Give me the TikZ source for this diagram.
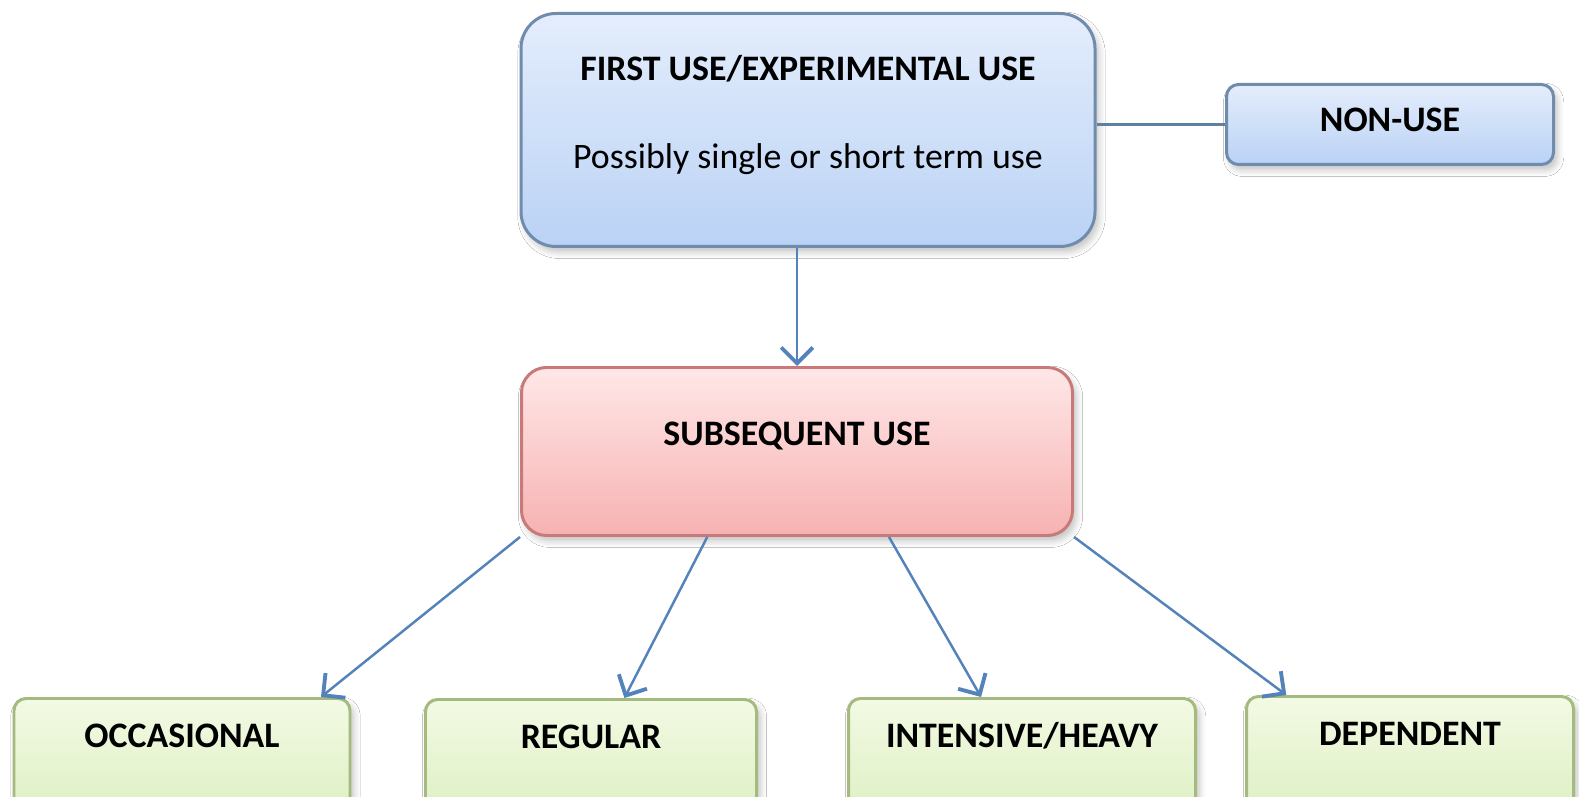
\documentclass[tikz,border=0pt]{standalone}
\usepackage{fontspec}
\setmainfont{Carlito}
\usetikzlibrary{
  arrows.meta,
  calc,
  shadows.blur,
}
\definecolor{cArrow}{RGB}{ 84,130,186}
\definecolor{cLink}{RGB}{ 96,128,160}
\definecolor{cBlueTop}{RGB}{228,237,252}
\definecolor{cBlueBot}{RGB}{186,210,245}
\definecolor{cBlueEdge}{RGB}{112,140,172}
\definecolor{cPinkTop}{RGB}{255,231,231}
\definecolor{cPinkBot}{RGB}{247,178,178}
\definecolor{cPinkEdge}{RGB}{200,122,122}
\definecolor{cGreenTop}{RGB}{243,250,228}
\definecolor{cGreenBot}{RGB}{222,240,196}
\definecolor{cGreenEdge}{RGB}{165,186,126}
\tikzset{
  % Generic stage box (anchored at its top edge)
  stage/.style={
    rectangle, line width=0.85pt,
    anchor=north, inner xsep=0pt, inner ysep=0pt,
    font=\fontsize{10.2}{12.2}\selectfont\bfseries, align=center,
    blur shadow={shadow xshift=1pt, shadow yshift=-1.5pt,
      shadow opacity=25, shadow blur steps=6},
  },
  bluebox/.style={stage, draw=cBlueEdge, top color=cBlueTop, bottom color=cBlueBot},
  pinkbox/.style={stage, draw=cPinkEdge, top color=cPinkTop, bottom color=cPinkBot},
  greenbox/.style={stage, draw=cGreenEdge, top color=cGreenTop, bottom color=cGreenBot,
    rounded corners=0.12cm, text height=0.49cm, text depth=0.64cm},
  % Arrow
  arr/.style={-{Straight Barb[length=4.5pt, width=9pt, line width=1.1pt]},
    draw=cArrow, line width=0.7pt},
  % Plain link
  link/.style={draw=cLink, line width=0.7pt},
}

\begin{document}
\begin{tikzpicture}

\path[use as bounding box, fill=white] (0,0) rectangle (15.79,-7.97);

% ── First use and non-use ─────────────────────────────────────────────────────
% (text height/depth count from the baseline of the last line)
\node[
  bluebox, rounded corners=0.35cm,
  minimum width=5.74cm, text height=1.55cm, text depth=0.78cm,
] (first) at (8.08,-0.12)
  {FIRST USE/EXPERIMENTAL USE\\[0.45cm]{\mdseries Possibly single or short term use}};

\node[
  bluebox, rounded corners=0.12cm,
  minimum width=3.27cm, text height=0.47cm, text depth=0.33cm,
] (nonuse) at (13.90,-0.83) {NON-USE};

\draw[link] (nonuse.west -| first.east) -- (nonuse.west);

% ── Subsequent use ────────────────────────────────────────────────────────────
\node[
  pinkbox, rounded corners=0.25cm,
  minimum width=5.51cm, text height=0.78cm, text depth=0.90cm,
] (sub) at (7.97,-3.66) {SUBSEQUENT USE};

\draw[arr] (first.south -| sub.north) -- (sub.north);

% ── Patterns of use ───────────────────────────────────────────────────────────
\node[greenbox, minimum width=3.36cm] (occ) at (1.82,-6.97) {OCCASIONAL};
\node[greenbox, minimum width=3.31cm] (reg) at (5.91,-6.98) {REGULAR};
\node[greenbox, minimum width=3.47cm] (heavy) at (10.22,-6.97) {INTENSIVE/HEAVY};
\node[greenbox, minimum width=3.27cm] (dep) at (14.10,-6.95) {DEPENDENT};

\draw[arr] (sub.south west)
  -- ($(occ.north west)!0.91!(occ.north east)$);
\draw[arr] ($(sub.south west)!0.338!(sub.south east)$)
  -- ($(reg.north west)!0.60!(reg.north east)$);
\draw[arr] ($(sub.south west)!0.666!(sub.south east)$)
  -- ($(heavy.north west)!0.383!(heavy.north east)$);
\draw[arr] (sub.south east)
  -- ($(dep.north west)!0.125!(dep.north east)$);

\end{tikzpicture}
\end{document}
